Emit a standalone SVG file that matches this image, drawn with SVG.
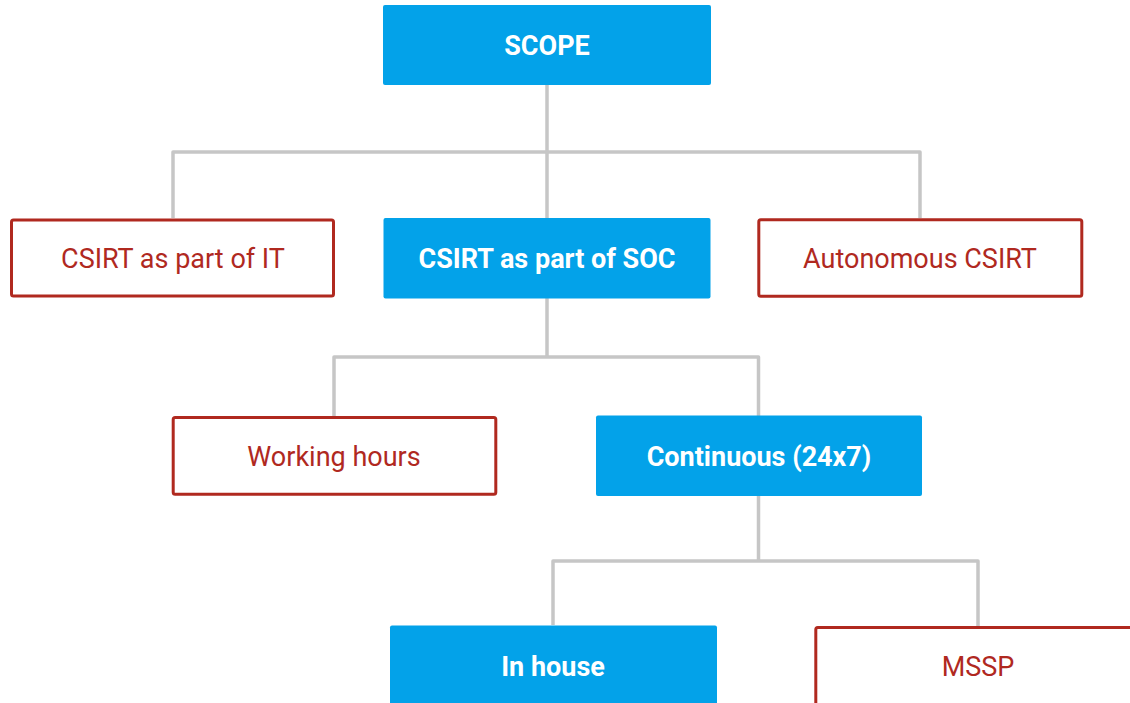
<svg xmlns="http://www.w3.org/2000/svg" width="1130" height="703" viewBox="0 0 1130 703">
  <style>
    .fill-box { fill: #03a2e9; }
    .line-box { fill: #ffffff; stroke: #b0291f; stroke-width: 3; }
    .fill-text { font-family: Roboto, "Liberation Sans", sans-serif; font-size: 27px; font-weight: 700; fill: #ffffff; text-anchor: middle; }
    .line-text { font-family: Roboto, "Liberation Sans", sans-serif; font-size: 27px; font-weight: 400; fill: #b0291f; text-anchor: middle; }
    .wire { fill: none; stroke: #c6c6c6; stroke-width: 3.5; stroke-linejoin: round; }
  </style>
  <rect width="1130" height="703" fill="#ffffff"/>

  <g id="connectors">
    <path class="wire" d="M547 85 V218 M173 218 V152 H920 V218"/>
    <path class="wire" d="M547 298 V357 M334 416 V357 H758.5 V416"/>
    <path class="wire" d="M758.5 496 V561 M553 625 V561 H978 V626"/>
  </g>

  <g id="scope">
    <rect class="fill-box" x="383" y="5" width="328" height="80" rx="2"/>
    <text class="fill-text" x="547" y="54.5">SCOPE</text>
  </g>

  <g id="csirt-it">
    <rect class="line-box" x="11.5" y="220" width="322" height="76" rx="2"/>
    <text class="line-text" x="173" y="267.5">CSIRT as part of IT</text>
  </g>

  <g id="csirt-soc">
    <rect class="fill-box" x="383.5" y="218" width="327" height="80.5" rx="2"/>
    <text class="fill-text" x="547" y="267.5">CSIRT as part of SOC</text>
  </g>

  <g id="csirt-autonomous">
    <rect class="line-box" x="758.8" y="219.8" width="323" height="76.5" rx="2"/>
    <text class="line-text" x="920" y="267.5">Autonomous CSIRT</text>
  </g>

  <g id="working-hours">
    <rect class="line-box" x="173.2" y="417.5" width="322.6" height="76.7" rx="2"/>
    <text class="line-text" x="334" y="465.5">Working hours</text>
  </g>

  <g id="continuous">
    <rect class="fill-box" x="596" y="415.5" width="326" height="80.5" rx="2"/>
    <text class="fill-text" x="759" y="465.5">Continuous (24x7)</text>
  </g>

  <g id="in-house">
    <rect class="fill-box" x="390" y="625.5" width="327" height="90" rx="2"/>
    <text class="fill-text" x="553" y="675.5">In house</text>
  </g>

  <g id="mssp">
    <rect class="line-box" x="815.8" y="627.5" width="323" height="90" rx="2"/>
    <text class="line-text" x="978" y="675.5">MSSP</text>
  </g>
</svg>
